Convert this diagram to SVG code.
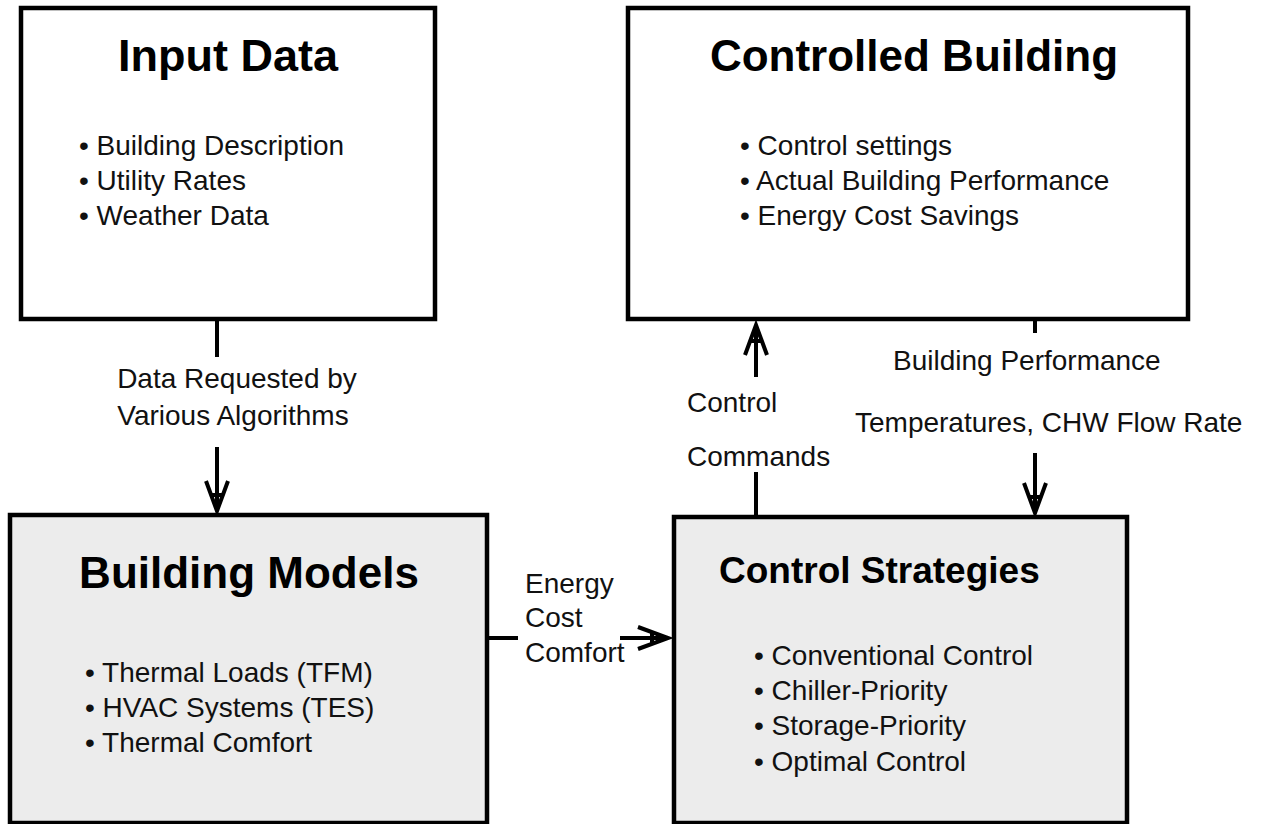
<svg xmlns="http://www.w3.org/2000/svg" width="1267" height="824" viewBox="0 0 1267 824">
<style>
.box{stroke:#000;stroke-width:4.5}
.top{fill:#fff}
.bot{fill:#ececec}
.t{font-family:"Liberation Sans",Arial,sans-serif;font-size:28px;fill:#111}
.h{font-family:"Liberation Sans",Arial,sans-serif;font-weight:bold;fill:#000}
.c{stroke:#000;stroke-width:4;fill:none}
</style>
<defs>
<marker id="arr" viewBox="-36 -16 46 32" refX="0" refY="0" markerWidth="46" markerHeight="32" markerUnits="userSpaceOnUse" orient="auto">
<path d="M-30,-11 L0,0 L-30,11 M-16,-6 L-16,6" fill="none" stroke="#000" stroke-width="4"/>
</marker>
</defs>
<rect width="1267" height="824" fill="#fff"/>
<g id="input-data">
<rect class="box top" x="21" y="8" width="414" height="311"/>
<text class="h" x="228" y="71" font-size="45" text-anchor="middle">Input Data</text>
<text class="t" x="79" y="155">• Building Description</text>
<text class="t" x="79" y="190">• Utility Rates</text>
<text class="t" x="79" y="225">• Weather Data</text>
</g>
<g id="controlled-building">
<rect class="box top" x="628" y="8" width="560" height="311"/>
<text class="h" x="914" y="71" font-size="44" text-anchor="middle">Controlled Building</text>
<text class="t" x="740" y="155">• Control settings</text>
<text class="t" x="740" y="190">• Actual Building Performance</text>
<text class="t" x="740" y="225">• Energy Cost Savings</text>
</g>
<g id="building-models">
<rect class="box bot" x="10" y="515" width="477" height="308"/>
<text class="h" x="249" y="588" font-size="44" text-anchor="middle">Building Models</text>
<text class="t" x="85" y="682">• Thermal Loads (TFM)</text>
<text class="t" x="85" y="717">• HVAC Systems (TES)</text>
<text class="t" x="85" y="752">• Thermal Comfort</text>
</g>
<g id="control-strategies">
<rect class="box bot" x="674" y="517" width="453" height="306"/>
<text class="h" x="719" y="583" font-size="37">Control Strategies</text>
<text class="t" x="754" y="665">• Conventional Control</text>
<text class="t" x="754" y="700">• Chiller-Priority</text>
<text class="t" x="754" y="735">• Storage-Priority</text>
<text class="t" x="754" y="771">• Optimal Control</text>
</g>
<g id="connectors">
<line class="c" x1="217" y1="319" x2="217" y2="357"/>
<line class="c" x1="217" y1="447" x2="217" y2="511" marker-end="url(#arr)"/>
<line class="c" x1="487" y1="638" x2="518" y2="638"/>
<line class="c" x1="620" y1="638" x2="668" y2="638" marker-end="url(#arr)"/>
<line class="c" x1="756" y1="517" x2="756" y2="472"/>
<line class="c" x1="756" y1="377" x2="756" y2="325" marker-end="url(#arr)"/>
<line class="c" x1="1035" y1="319" x2="1035" y2="333"/>
<line class="c" x1="1035" y1="453" x2="1035" y2="513" marker-end="url(#arr)"/>
</g>
<g id="labels">
<text class="t" x="237" y="388" text-anchor="middle">Data Requested by</text>
<text class="t" x="233" y="425" text-anchor="middle">Various Algorithms</text>
<text class="t" x="525" y="593">Energy</text>
<text class="t" x="525" y="627">Cost</text>
<text class="t" x="525" y="662">Comfort</text>
<text class="t" x="687" y="412">Control</text>
<text class="t" x="687" y="466">Commands</text>
<text class="t" x="893" y="370">Building Performance</text>
<text class="t" x="855" y="432">Temperatures, CHW Flow Rate</text>
</g>
</svg>
